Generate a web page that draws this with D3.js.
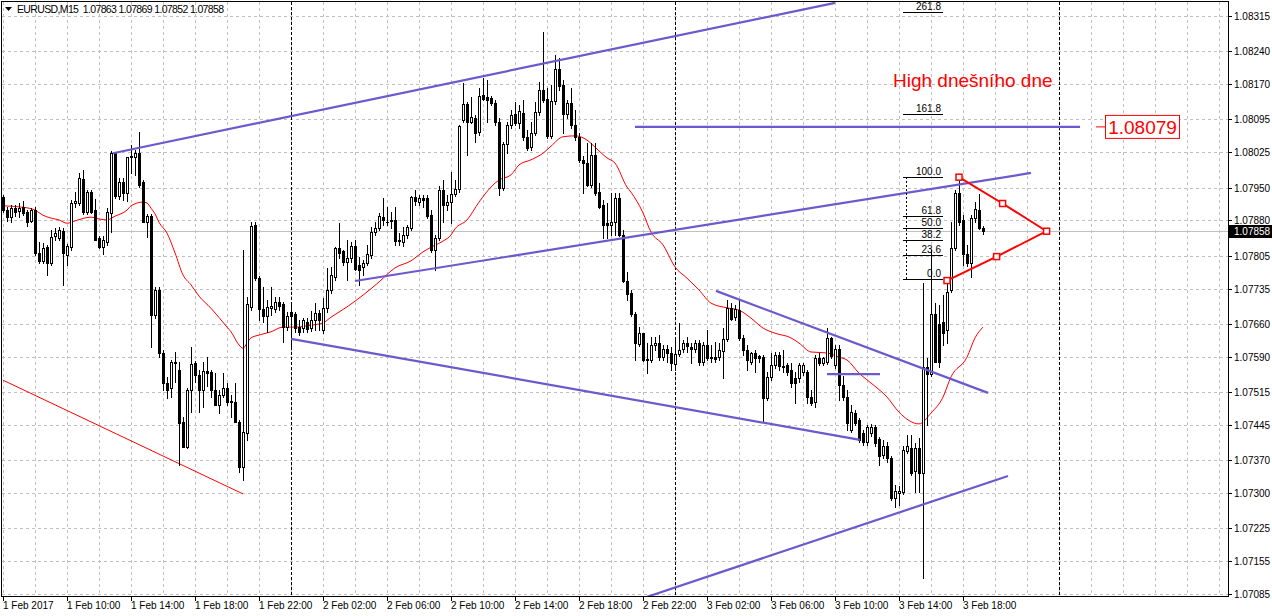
<!DOCTYPE html>
<html><head><meta charset="utf-8">
<script src="https://cdn.jsdelivr.net/npm/d3@7"></script>
<style>
html,body{margin:0;padding:0;background:#fff;}
svg{display:block;font-family:"Liberation Sans",Arial,sans-serif;}
text{white-space:pre;}
</style></head><body>
<svg id="chart" width="1272" height="616"></svg>
<script>
// ---------------- DATA ----------------
const titleText = "EURUSD,M15  1.07863 1.07869 1.07852 1.07858";
const lastPrice = 1.07858;

const openP = [
1.07930,1.07902,1.07887,1.07906,1.07900,1.07908,1.07898,1.07879,1.07902,1.07811,
1.07794,1.07823,1.07789,1.07847,1.07843,1.07857,1.07806,1.07823,1.07917,1.07917,
1.07968,1.07898,1.07940,1.07902,1.07843,1.07823,1.07834,1.07896,1.08023,1.07932,
1.07962,1.07938,1.08015,1.08015,1.08023,1.07962,1.07876,1.07889,1.07679,1.07732,
1.07598,1.07534,1.07523,1.07579,1.07562,1.07451,1.07398,1.07519,1.07577,1.07551,
1.07519,1.07559,1.07557,1.07519,1.07487,1.07508,1.07523,1.07496,1.07493,1.07451,
1.07355,1.07428,1.07696,1.07870,1.07757,1.07691,1.07677,1.07694,1.07691,1.07706,
1.07702,1.07653,1.07685,1.07681,1.07653,1.07651,1.07664,1.07651,1.07668,1.07683,
1.07647,1.07694,1.07732,1.07760,1.07821,1.07815,1.07791,1.07800,1.07826,1.07785,
1.07781,1.07789,1.07806,1.07855,1.07864,1.07887,1.07877,1.07879,1.07881,1.07836,
1.07834,1.07849,1.07864,1.07930,1.07919,1.07928,1.07928,1.07891,1.07817,1.07843,
1.07945,1.07913,1.07919,1.07936,1.07947,1.08094,1.08128,1.08089,1.08097,1.08068,
1.08147,1.08143,1.08140,1.08130,1.08089,1.07949,1.08043,1.08083,1.08106,1.08087,
1.08109,1.08058,1.08036,1.08066,1.08111,1.08158,1.08138,1.08060,1.08134,1.08202,
1.08168,1.08106,1.08130,1.08083,1.08058,1.08009,1.08002,1.07955,1.08019,1.07940,
1.07913,1.07874,1.07870,1.07876,1.07928,1.07849,1.07751,1.07726,1.07681,1.07617,
1.07640,1.07585,1.07583,1.07615,1.07619,1.07589,1.07606,1.07598,1.07574,1.07596,
1.07606,1.07619,1.07611,1.07606,1.07619,1.07579,1.07615,1.07587,1.07589,1.07589,
1.07602,1.07628,1.07694,1.07674,1.07689,1.07630,1.07604,1.07579,1.07598,1.07591,
1.07589,1.07502,1.07547,1.07572,1.07594,1.07570,1.07572,1.07562,1.07545,1.07545,
1.07557,1.07557,1.07504,1.07493,1.07587,1.07577,1.07579,1.07630,1.07572,1.07606,
1.07530,1.07504,1.07434,1.07470,1.07455,1.07428,1.07408,1.07428,1.07440,1.07415,
1.07381,1.07400,1.07374,1.07289,1.07300,1.07302,1.07389,1.07396,1.07347,1.07396,
1.07342,1.07568,1.07553,1.07681,1.07660,1.07664,1.07647,1.07732,1.07821,1.07938,
1.07881,1.07809,1.07789,1.07885,1.07902,1.07863];

const highP = [
1.07934,1.07908,1.07913,1.07913,1.07917,1.07921,1.07902,1.07906,1.07908,1.07834,
1.07832,1.07828,1.07860,1.07864,1.07866,1.07864,1.07830,1.07923,1.07940,1.07981,
1.07987,1.07945,1.07945,1.07926,1.07847,1.07847,1.07906,1.08028,1.08026,1.07970,
1.07970,1.08015,1.08041,1.08030,1.08068,1.07966,1.07894,1.07894,1.07738,1.07738,
1.07604,1.07547,1.07583,1.07600,1.07579,1.07462,1.07523,1.07611,1.07581,1.07562,
1.07579,1.07589,1.07562,1.07555,1.07519,1.07555,1.07534,1.07508,1.07534,1.07455,
1.07817,1.07717,1.07876,1.07876,1.07762,1.07738,1.07711,1.07738,1.07717,1.07717,
1.07706,1.07685,1.07704,1.07685,1.07668,1.07672,1.07672,1.07687,1.07704,1.07689,
1.07715,1.07779,1.07781,1.07823,1.07874,1.07817,1.07838,1.07834,1.07838,1.07802,
1.07796,1.07828,1.07866,1.07876,1.07896,1.07928,1.07908,1.07898,1.07908,1.07853,
1.07866,1.07870,1.07932,1.07945,1.07934,1.07934,1.07934,1.07902,1.07849,1.07953,
1.07966,1.07934,1.07983,1.07966,1.08083,1.08172,1.08132,1.08143,1.08104,1.08162,
1.08183,1.08179,1.08145,1.08136,1.08097,1.08047,1.08089,1.08115,1.08132,1.08126,
1.08136,1.08072,1.08089,1.08132,1.08175,1.08281,1.08162,1.08168,1.08232,1.08226,
1.08179,1.08136,1.08162,1.08115,1.08066,1.08017,1.08045,1.08045,1.08045,1.07960,
1.07923,1.07917,1.07938,1.07938,1.07938,1.07860,1.07770,1.07732,1.07685,1.07653,
1.07640,1.07619,1.07632,1.07632,1.07636,1.07615,1.07615,1.07611,1.07632,1.07662,
1.07626,1.07632,1.07619,1.07626,1.07626,1.07621,1.07647,1.07615,1.07621,1.07619,
1.07651,1.07711,1.07704,1.07700,1.07711,1.07636,1.07615,1.07600,1.07604,1.07594,
1.07594,1.07557,1.07598,1.07600,1.07600,1.07604,1.07577,1.07577,1.07557,1.07577,
1.07577,1.07562,1.07519,1.07594,1.07598,1.07589,1.07651,1.07632,1.07615,1.07615,
1.07549,1.07519,1.07487,1.07477,1.07460,1.07434,1.07445,1.07447,1.07445,1.07419,
1.07413,1.07408,1.07379,1.07317,1.07315,1.07400,1.07423,1.07423,1.07406,1.07417,
1.07747,1.07587,1.07817,1.07704,1.07700,1.07721,1.07753,1.07876,1.07945,1.07972,
1.07891,1.07828,1.07891,1.07919,1.07936,1.07869];

const lowP = [
1.07898,1.07879,1.07876,1.07889,1.07887,1.07891,1.07868,1.07876,1.07806,1.07789,
1.07789,1.07764,1.07785,1.07838,1.07838,1.07743,1.07785,1.07817,1.07908,1.07913,
1.07894,1.07894,1.07896,1.07838,1.07821,1.07809,1.07828,1.07855,1.07928,1.07926,
1.07923,1.07921,1.07981,1.07977,1.07951,1.07876,1.07845,1.07611,1.07672,1.07589,
1.07519,1.07502,1.07504,1.07536,1.07360,1.07398,1.07396,1.07472,1.07536,1.07472,
1.07483,1.07528,1.07504,1.07487,1.07470,1.07504,1.07487,1.07462,1.07451,1.07345,
1.07328,1.07413,1.07689,1.07753,1.07668,1.07664,1.07643,1.07679,1.07685,1.07689,
1.07621,1.07647,1.07611,1.07643,1.07636,1.07643,1.07643,1.07645,1.07647,1.07647,
1.07640,1.07685,1.07726,1.07753,1.07800,1.07785,1.07753,1.07791,1.07774,1.07743,
1.07764,1.07785,1.07800,1.07849,1.07860,1.07870,1.07870,1.07864,1.07828,1.07828,
1.07826,1.07843,1.07860,1.07913,1.07913,1.07908,1.07885,1.07813,1.07774,1.07838,
1.07876,1.07902,1.07874,1.07932,1.07940,1.08089,1.08019,1.08087,1.08047,1.08062,
1.08136,1.08089,1.08126,1.08083,1.07934,1.07945,1.08023,1.08077,1.08083,1.08077,
1.08051,1.08030,1.08030,1.08062,1.08104,1.08132,1.08055,1.08055,1.08128,1.08158,
1.08066,1.08099,1.08077,1.08051,1.08004,1.07938,1.07953,1.07951,1.07934,1.07906,
1.07843,1.07843,1.07849,1.07849,1.07847,1.07749,1.07711,1.07677,1.07583,1.07613,
1.07581,1.07555,1.07579,1.07604,1.07583,1.07583,1.07579,1.07562,1.07562,1.07591,
1.07600,1.07600,1.07577,1.07600,1.07572,1.07572,1.07583,1.07579,1.07579,1.07583,
1.07545,1.07623,1.07668,1.07668,1.07626,1.07594,1.07562,1.07574,1.07557,1.07579,
1.07451,1.07498,1.07540,1.07566,1.07562,1.07557,1.07551,1.07526,1.07491,1.07536,
1.07551,1.07491,1.07487,1.07483,1.07572,1.07572,1.07574,1.07587,1.07566,1.07498,
1.07498,1.07434,1.07430,1.07445,1.07408,1.07402,1.07402,1.07421,1.07400,1.07360,
1.07374,1.07366,1.07285,1.07270,1.07274,1.07298,1.07385,1.07338,1.07302,1.07302,
1.07119,1.07445,1.07549,1.07579,1.07568,1.07615,1.07619,1.07728,1.07817,1.07870,
1.07785,1.07783,1.07760,1.07876,1.07862,1.07852];

const closeP = [
1.07902,1.07887,1.07906,1.07898,1.07906,1.07896,1.07876,1.07902,1.07811,1.07794,
1.07821,1.07789,1.07845,1.07853,1.07860,1.07811,1.07826,1.07917,1.07921,1.07970,
1.07898,1.07940,1.07898,1.07838,1.07823,1.07838,1.07898,1.08023,1.07932,1.07962,
1.07938,1.08015,1.08017,1.08023,1.07955,1.07876,1.07889,1.07679,1.07732,1.07598,
1.07534,1.07519,1.07579,1.07577,1.07449,1.07398,1.07519,1.07574,1.07551,1.07519,
1.07559,1.07555,1.07519,1.07487,1.07508,1.07523,1.07493,1.07493,1.07451,1.07355,
1.07430,1.07702,1.07868,1.07757,1.07691,1.07677,1.07696,1.07698,1.07706,1.07698,
1.07653,1.07677,1.07677,1.07651,1.07643,1.07668,1.07649,1.07668,1.07683,1.07668,
1.07694,1.07732,1.07764,1.07821,1.07811,1.07791,1.07800,1.07826,1.07777,1.07774,
1.07789,1.07809,1.07855,1.07864,1.07889,1.07881,1.07876,1.07881,1.07836,1.07838,
1.07849,1.07866,1.07930,1.07921,1.07928,1.07923,1.07889,1.07817,1.07843,1.07945,
1.07913,1.07919,1.07936,1.07947,1.08081,1.08128,1.08089,1.08100,1.08066,1.08145,
1.08138,1.08136,1.08130,1.08089,1.07949,1.08043,1.08083,1.08104,1.08087,1.08113,
1.08058,1.08034,1.08066,1.08111,1.08158,1.08136,1.08060,1.08134,1.08202,1.08166,
1.08106,1.08130,1.08083,1.08058,1.08009,1.08002,1.07955,1.08019,1.07938,1.07908,
1.07870,1.07870,1.07876,1.07928,1.07849,1.07751,1.07723,1.07681,1.07619,1.07640,
1.07583,1.07583,1.07615,1.07619,1.07589,1.07606,1.07598,1.07577,1.07596,1.07604,
1.07619,1.07613,1.07606,1.07619,1.07579,1.07615,1.07587,1.07589,1.07585,1.07604,
1.07628,1.07694,1.07670,1.07691,1.07630,1.07604,1.07583,1.07598,1.07587,1.07587,
1.07502,1.07547,1.07572,1.07594,1.07570,1.07568,1.07557,1.07534,1.07534,1.07572,
1.07572,1.07504,1.07491,1.07587,1.07577,1.07587,1.07630,1.07591,1.07606,1.07530,
1.07504,1.07449,1.07472,1.07449,1.07413,1.07408,1.07440,1.07440,1.07406,1.07379,
1.07400,1.07374,1.07289,1.07304,1.07304,1.07391,1.07400,1.07342,1.07396,1.07342,
1.07568,1.07553,1.07681,1.07579,1.07579,1.07640,1.07728,1.07821,1.07938,1.07876,
1.07809,1.07789,1.07885,1.07904,1.07864,1.07858];

// moving average : bar index -> value
const maBar = [0,5,8,10,12,14,16,18,22,24,26,28,31,32,35,36,37,38,39,41,43,45,47,49,52,56,57,59,60,61,62,64,67,70,73,77,80,82,86,90,94,98,102,105,107,110,112,113,116,119,122,124,127,129,132,135,137,140,143,146,148,151,153,156,157,160,162,165,168,171,174,177,181,184,187,190,193,197,199,202,206,209,211,214,217,221,224,229,232,235,237,241,243,245];
const maValue = [1.07911,1.07908,1.07902,1.07891,1.07885,1.07881,1.07874,1.07879,1.07887,1.07883,1.07881,1.07889,1.07902,1.07911,1.07919,1.07917,1.07906,1.07894,1.07876,1.07853,1.07811,1.07764,1.07743,1.07719,1.07693,1.07653,1.07643,1.07615,1.07608,1.07619,1.07630,1.07636,1.07643,1.07653,1.07653,1.07657,1.07662,1.07674,1.07696,1.07721,1.07749,1.07779,1.07794,1.07813,1.07823,1.07836,1.07849,1.07862,1.07881,1.07919,1.07951,1.07966,1.07977,1.07998,1.08009,1.08023,1.08038,1.08058,1.08060,1.08051,1.08036,1.08013,1.08002,1.07951,1.07940,1.07896,1.07855,1.07828,1.07781,1.07757,1.07732,1.07704,1.07694,1.07689,1.07672,1.07651,1.07640,1.07630,1.07619,1.07600,1.07598,1.07589,1.07583,1.07555,1.07534,1.07504,1.07472,1.07447,1.07470,1.07504,1.07547,1.07589,1.07630,1.07653];

const yTickValues = [1.08315,1.08240,1.08170,1.08095,1.08025,1.07950,1.07880,1.07805,1.07735,1.07660,1.07590,1.07515,1.07445,1.07370,1.07300,1.07225,1.07155,1.07085];
const xTickBars = [0,16,32,48,64,80,96,112,128,144,160,176,192,208,224,240];
const xTickLabels = ["1 Feb 2017","1 Feb 10:00","1 Feb 14:00","1 Feb 18:00","1 Feb 22:00","2 Feb 02:00","2 Feb 06:00","2 Feb 10:00","2 Feb 14:00","2 Feb 18:00","2 Feb 22:00","3 Feb 02:00","3 Feb 06:00","3 Feb 10:00","3 Feb 14:00","3 Feb 18:00"];
const daySeparatorBars = [72,168,264];

// trend lines [bar1, price1, bar2, price2]
const blueLines = [
  [27.5,1.08023,208,1.08343],
  [88,1.07751,257,1.07981],
  [72,1.07628,214.25,1.07413],
  [178.25,1.07730,246.25,1.07513],
  [160,1.07076,251.25,1.07336],
  [206,1.07553,219.25,1.07553],
  [158,1.08079,269.25,1.08079]
];
const redLine = [0,1.07540,60,1.07298];
const fibLow = 1.07755, fibHigh = 1.07972;
const fibLevels = [0,23.6,38.2,50,61.8,100,161.8,261.8];
const fibBars = [225,235];
const triangleUpper = [[239,1.07972],[249.9,1.07916],[260.9,1.07857]];
const triangleLower = [[236,1.07752],[248.4,1.07803],[260.9,1.07857]];
const highLabel = "High dnešního dne";
const levelLabel = "1.08079";
const levelPrice = 1.08079;

// ---------------- DRAW ----------------
(function(){
const svg = d3.select("#chart");
const W = 1272, H = 616;
const pL = 2, pR = 1228, pT = 2, pB = 596;
const x = d3.scaleLinear().domain([0,306]).range([3,1227]);
const y = d3.scaleLinear().domain([1.07085,1.08315]).range([594,16]);

svg.append("rect").attr("width",W).attr("height",H).attr("fill","#fff");
svg.append("defs").append("clipPath").attr("id","clip")
  .append("rect").attr("x",pL).attr("y",pT).attr("width",pR-pL).attr("height",pB-pT);

const plot = svg.append("g").attr("clip-path","url(#clip)");
const cx = i => Math.round(x(i));
const py = v => Math.round(y(v));

// grid
plot.append("g").selectAll("line").data(d3.range(0,307,8)).join("line")
  .attr("x1",d=>cx(d)+0.5).attr("x2",d=>cx(d)+0.5).attr("y1",pT).attr("y2",pB)
  .attr("stroke","#c0c0c0").attr("stroke-dasharray","3,3").attr("shape-rendering","crispEdges");
plot.append("g").selectAll("line").data(yTickValues).join("line")
  .attr("x1",pL).attr("x2",pR).attr("y1",d=>py(d)+0.5).attr("y2",d=>py(d)+0.5)
  .attr("stroke","#c0c0c0").attr("stroke-dasharray","3,3").attr("shape-rendering","crispEdges");

// day separators
plot.append("g").selectAll("line").data(daySeparatorBars).join("line")
  .attr("x1",d=>cx(d)+0.5).attr("x2",d=>cx(d)+0.5).attr("y1",pT).attr("y2",pB)
  .attr("stroke","#000").attr("stroke-dasharray","3,2").attr("shape-rendering","crispEdges");

// current price line
plot.append("line").attr("x1",pL).attr("x2",pR).attr("y1",py(lastPrice)+0.5).attr("y2",py(lastPrice)+0.5)
  .attr("stroke","#c0c0c0").attr("shape-rendering","crispEdges");

// moving average
const maPts = maBar.map((b,k)=>[b,maValue[k]]);
plot.append("path").datum(maPts)
  .attr("d",d3.line().x(d=>x(d[0])).y(d=>y(d[1])).curve(d3.curveMonotoneX))
  .attr("fill","none").attr("stroke","#ff0000").attr("stroke-width",1);

// red trendline
plot.append("line").attr("x1",x(redLine[0])).attr("y1",y(redLine[1])).attr("x2",x(redLine[2])).attr("y2",y(redLine[3]))
  .attr("stroke","#ff0000").attr("stroke-width",1);

// candles
const bars = d3.range(openP.length).map(i=>({i,o:openP[i],h:highP[i],l:lowP[i],c:closeP[i]}));
const cg = plot.append("g").attr("shape-rendering","crispEdges");
cg.selectAll("line").data(bars).join("line")
  .attr("x1",d=>cx(d.i)+0.5).attr("x2",d=>cx(d.i)+0.5)
  .attr("y1",d=>py(d.h)).attr("y2",d=>py(d.l)+1)
  .attr("stroke","#000");
cg.selectAll("rect").data(bars).join("rect")
  .attr("x",d=>cx(d.i)-0.5).attr("width",2)
  .attr("y",d=>py(Math.max(d.o,d.c))+0.5)
  .attr("height",d=>Math.max(py(Math.min(d.o,d.c))-py(Math.max(d.o,d.c)),0.01))
  .attr("fill",d=>d.c>=d.o?"#fff":"#000").attr("stroke","#000").attr("stroke-width",1);

// blue trend lines
plot.append("g").selectAll("line").data(blueLines).join("line")
  .attr("x1",d=>x(d[0])).attr("y1",d=>y(d[1])).attr("x2",d=>x(d[2])).attr("y2",d=>y(d[3]))
  .attr("stroke","#6a5acd").attr("stroke-width",2.2);

// fibonacci
const fibG = plot.append("g");
fibG.append("line").attr("x1",x(fibBars[0]+0.75)+0.5).attr("x2",x(fibBars[0]+0.75)+0.5)
  .attr("y1",y(fibHigh)).attr("y2",y(fibLow))
  .attr("stroke","#000").attr("stroke-dasharray","2,2").attr("shape-rendering","crispEdges");
fibLevels.forEach(l=>{
  const v = fibLow + (fibHigh-fibLow)*l/100;
  fibG.append("line").attr("x1",x(fibBars[0])).attr("x2",x(fibBars[1]))
    .attr("y1",py(v)+0.5).attr("y2",py(v)+0.5).attr("stroke","#000").attr("shape-rendering","crispEdges");
  fibG.append("text").attr("x",x(fibBars[1])-2).attr("y",py(v)-2).attr("text-anchor","end")
    .attr("font-size",10).attr("fill","#000").text(l.toFixed(1));
});

// red triangle pattern
const triG = plot.append("g");
[triangleUpper,triangleLower].forEach(pts=>{
  triG.append("path").datum(pts).attr("d",d3.line().x(d=>x(d[0])).y(d=>y(d[1])))
    .attr("fill","none").attr("stroke","#ff0000").attr("stroke-width",2);
});
const markers = triangleUpper.concat(triangleLower.slice(0,2));
triG.selectAll("rect").data(markers).join("rect")
  .attr("x",d=>x(d[0])-3).attr("y",d=>y(d[1])-3).attr("width",6).attr("height",6)
  .attr("fill","#fff").attr("stroke","#ff0000").attr("stroke-width",1.5);

// text annotations
const lvY = y(levelPrice);
plot.append("text").attr("x",893).attr("y",lvY-40).attr("font-size",19).attr("fill","#ff0000").text(highLabel);
plot.append("line").attr("x1",1096).attr("x2",1105).attr("y1",lvY).attr("y2",lvY).attr("stroke","#ff0000");
plot.append("rect").attr("x",1105.5).attr("y",lvY-11.5).attr("width",74).attr("height",23)
  .attr("fill","#fff").attr("stroke","#ff0000").attr("stroke-width",1);
plot.append("text").attr("x",1142.5).attr("y",lvY+7).attr("text-anchor","middle").attr("font-size",19)
  .attr("fill","#ff0000").text(levelLabel);

// title
svg.append("path").attr("d","M5,7 L12,7 L8.5,11 Z").attr("fill","#000");
svg.append("text").attr("x",17).attr("y",13).attr("font-size",10.5).attr("fill","#000")
  .attr("textLength",207).attr("lengthAdjust","spacing").text(titleText);

// frame and axes
svg.append("line").attr("x1",1.5).attr("x2",1.5).attr("y1",1).attr("y2",pB).attr("stroke","#000");
svg.append("line").attr("x1",1).attr("x2",pR).attr("y1",1.5).attr("y2",1.5).attr("stroke","#000");
svg.append("line").attr("x1",pR+0.5).attr("x2",pR+0.5).attr("y1",1).attr("y2",pB+1).attr("stroke","#000");
svg.append("line").attr("x1",1).attr("x2",pR+1).attr("y1",pB+0.5).attr("y2",pB+0.5).attr("stroke","#000");

// y axis
const ya = svg.append("g");
ya.selectAll("line").data(yTickValues).join("line")
  .attr("x1",pR).attr("x2",pR+4).attr("y1",d=>py(d)+0.5).attr("y2",d=>py(d)+0.5)
  .attr("stroke","#000").attr("shape-rendering","crispEdges");
ya.selectAll("text").data(yTickValues).join("text")
  .attr("x",pR+6).attr("y",d=>py(d)+4).attr("font-size",10).attr("fill","#000")
  .text(d=>d.toFixed(5));
// last price box
svg.append("rect").attr("x",pR+1).attr("y",py(lastPrice)-6).attr("width",W-pR-1).attr("height",13).attr("fill","#000");
svg.append("text").attr("x",pR+6).attr("y",py(lastPrice)+4).attr("font-size",10).attr("fill","#fff").text(lastPrice.toFixed(5));

// x axis
const xa = svg.append("g");
xa.selectAll("line").data(xTickBars).join("line")
  .attr("x1",d=>cx(d)+0.5).attr("x2",d=>cx(d)+0.5).attr("y1",pB).attr("y2",pB+5)
  .attr("stroke","#000").attr("shape-rendering","crispEdges");
xa.selectAll("text").data(xTickBars).join("text")
  .attr("x",d=>cx(d)).attr("y",pB+13).attr("font-size",10).attr("fill","#000")
  .text((d,k)=>xTickLabels[k]);
})();
</script>
</body></html>
